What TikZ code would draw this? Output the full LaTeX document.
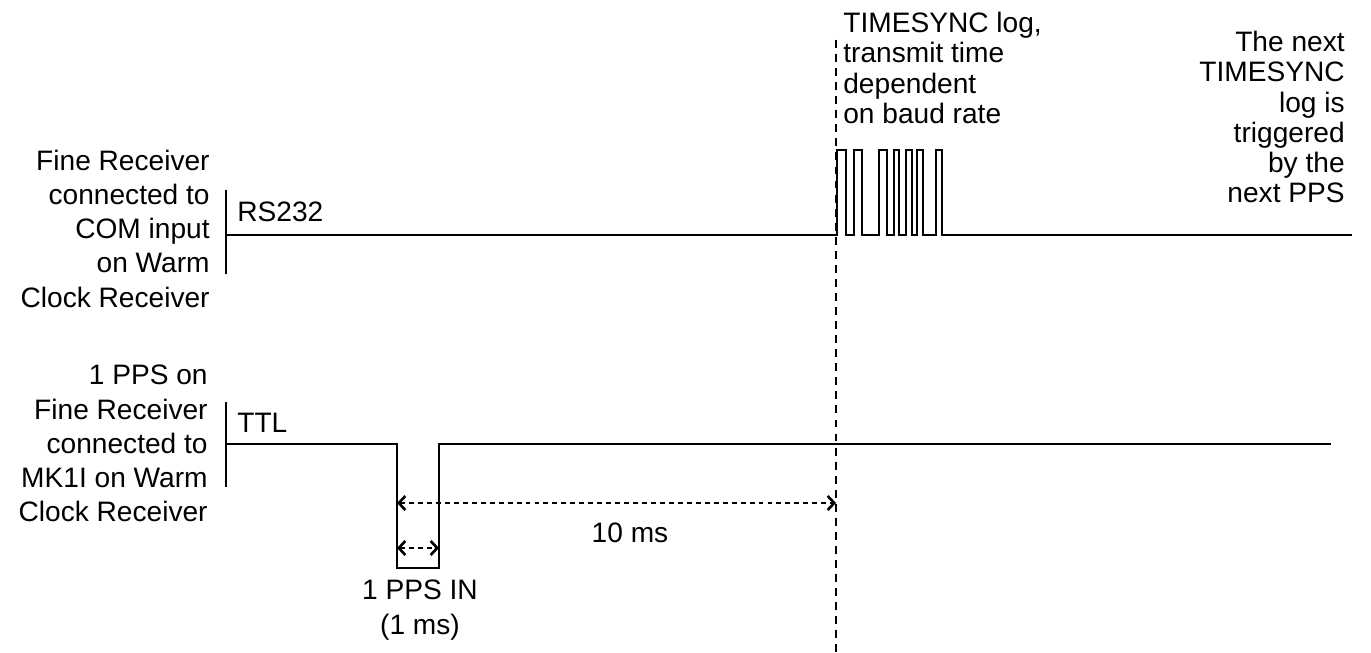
\documentclass[tikz,border=0pt]{standalone}
\usepackage{fontspec}
\setmainfont{Liberation Sans}
\usetikzlibrary{arrows.meta}

\begin{document}
\begin{tikzpicture}[
    x=0.02cm, y=-0.02cm,
    txt/.style={font=\fontsize{16pt}{19.4pt}\selectfont, inner sep=0pt},
    side/.style={txt, align=right, anchor=north east},
    note/.style={font=\fontsize{16pt}{17.2pt}\selectfont, inner sep=0pt},
    wave/.style={line width=1.1pt, line join=miter},
    bar/.style={line width=1.1pt},
    marker/.style={line width=0.6pt, dash pattern=on 4.5pt off 3.5pt},
    span/.style={{Straight Barb[length=0.13cm,width=0.28cm,line width=1.5pt]}-{Straight Barb[length=0.13cm,width=0.28cm,line width=1.5pt]}, line width=1.1pt, dash pattern=on 2.8pt off 2.3pt}
]
\useasboundingbox (0,0) rectangle (1371,652);

% Signal names (left)
\node[side] (rsname) at (210,150) {Fine Receiver\\connected to\\COM input\\on Warm\\Clock Receiver};
\node[side] (ttlname) at (208,365) {1 PPS on\\Fine Receiver\\connected to\\MK1I on Warm\\Clock Receiver};
\node[txt, anchor=north west] (rslabel) at (237,202) {RS232};
\node[txt, anchor=north west] (ttllabel) at (237,413) {TTL};

% Notes (top)
\node[note, align=left, anchor=north west] (lognote) at (843,12) {TIMESYNC log,\\transmit time\\dependent\\on baud rate};
\node[note, align=right, anchor=north east] (nextnote) at (1345,31) {The next\\TIMESYNC\\log is\\triggered\\by the\\next PPS};

% Key points
\coordinate (rs start) at (226,235);
\coordinate (rs end) at (1352,235);
\coordinate (ttl start) at (226,444);
\coordinate (ttl end) at (1331,444);
\coordinate (pps fall) at (397,444);
\coordinate (pps rise) at (439,444);
\coordinate (sync top) at (836,40);
\coordinate (sync bottom) at (836,652);

% Axis bars
\draw[bar] (226,190) -- (226,274);
\draw[bar] (226,402) -- (226,487);

% RS232 line with the TIMESYNC burst
\draw[wave] (rs start)
    foreach \r/\f in {837/846, 854/862, 879/887, 894/899, 906/912, 917/923, 936/942}
    { -- (\r,235) -- (\r,150) -- (\f,150) -- (\f,235) }
    -- (rs end);

% TTL line with the PPS pulse
\draw[wave] (ttl start) -- (pps fall) -- (397,568) -- (439,568) -- (pps rise) -- (ttl end);

% Timing marker
\draw[marker] (sync top) -- (sync bottom);

% Durations
\draw[span] (pps fall) ++(0,59) coordinate (ten) -- (ten -| sync top);
\draw[span] (pps fall) ++(0,104) coordinate (one) -- (one -| pps rise);
\node[txt, anchor=north] (tenms) at (630,523) {10 ms};
\node[txt, align=center, anchor=north] (ppsin) at (420,580) {1 PPS IN\\(1 ms)};

\end{tikzpicture}
\end{document}
